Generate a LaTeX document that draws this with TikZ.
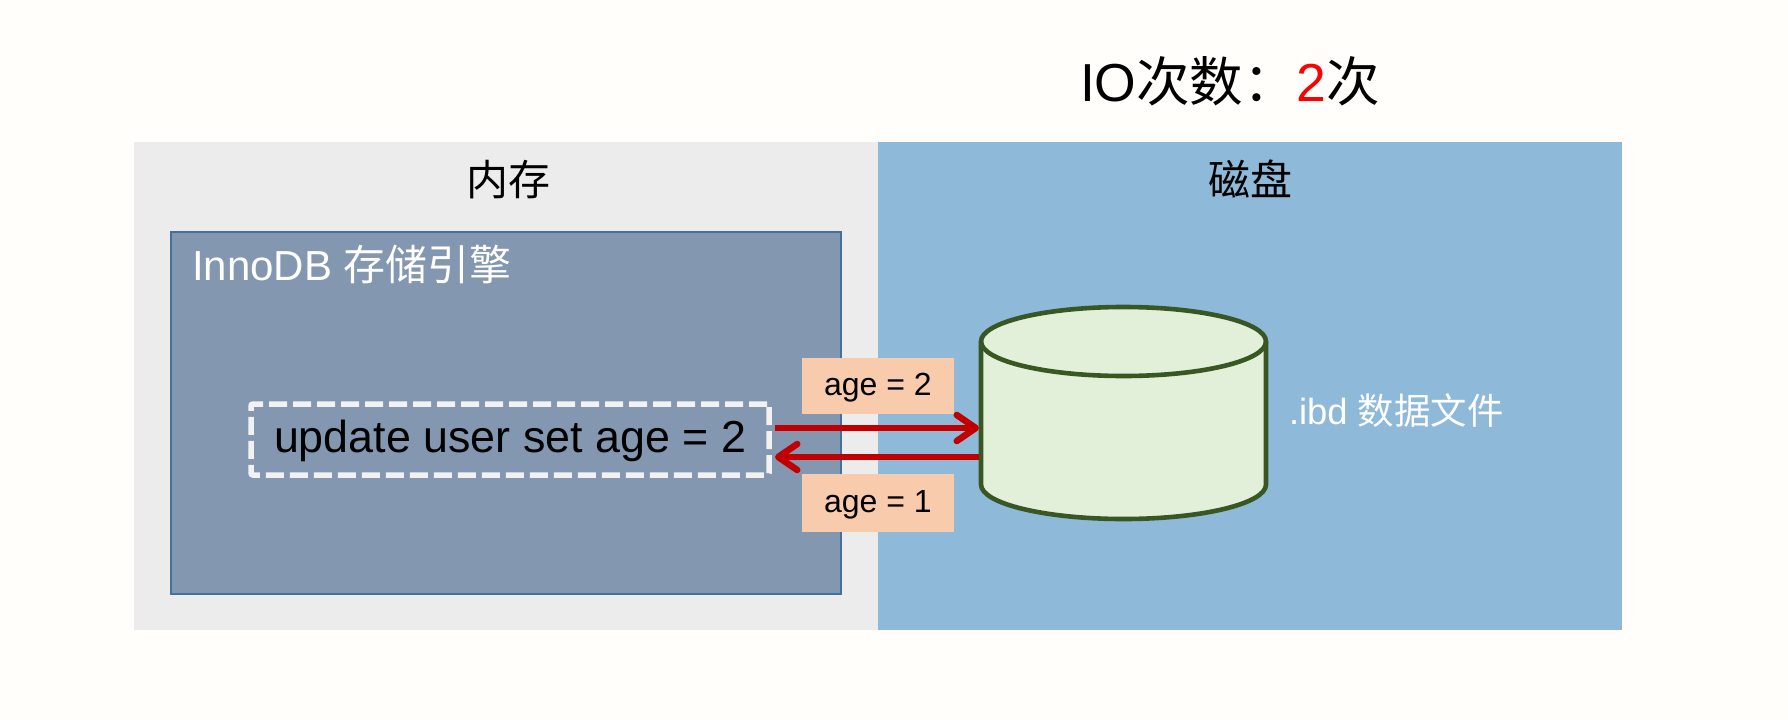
\documentclass[tikz,border=0pt]{standalone}
\usepackage{fontspec}
\setmainfont{Liberation Sans}
\newfontfamily\cjk{Noto Sans CJK SC}
\usetikzlibrary{arrows.meta}

\definecolor{pagecol}{HTML}{FFFEFA}
\definecolor{memcol}{HTML}{ECECEC}
\definecolor{diskcol}{HTML}{8EB9D9}
\definecolor{enginecol}{HTML}{8497B0}
\definecolor{engineline}{HTML}{41719C}
\definecolor{valcol}{HTML}{F8CBAD}
\definecolor{cylcol}{HTML}{E2EFD9}
\definecolor{cylline}{HTML}{385723}
\definecolor{ioline}{HTML}{C00000}
\definecolor{dashcol}{HTML}{F2F2F2}

\newcommand{\fsize}[1]{\fontsize{#1}{#1}\selectfont}

\begin{document}
\begin{tikzpicture}[
              x=1pt,y=-1pt,
              every node/.style={inner sep=0pt, outer sep=0pt},
              panel/.style={anchor=north west},
              word/.style={anchor=base west},
              valbox/.style={fill=valcol, minimum width=152pt, anchor=north west},
              cylend/.style={x radius=142.5pt, y radius=34.5pt},
              cylline/.style={draw=cylline, line width=4.6pt, line join=round},
              ioarrow/.style={draw=ioline, line width=6.5pt, -{Straight Barb[length=19pt,width=26pt,round]}}
            ]
              \path[use as bounding box, fill=pagecol] (0,0) rectangle (1788,720);
              \node[panel, fill=memcol, minimum width=744pt, minimum height=488pt] (mem) at (134,142) {};
              \node[panel, fill=diskcol, minimum width=744pt, minimum height=488pt] (hdd) at (878,142) {};
              \node[panel, fill=enginecol, draw=engineline, line width=1.5pt, minimum width=670pt, minimum height=362pt] (engine) at (171,232) {};

              \node[word] (title) at (1080,101) {\fsize{53.5}IO{\cjk 次数：}\textcolor{red}{2}{\cjk 次}};
              \node[word] (memtitle) at (466,195) {\fsize{42}\cjk 内存};
              \node[word] (hddtitle) at (1208,195) {\fsize{42}\cjk 磁盘};
              \node[word, text=white] (enginetitle) at (192,280) {\fsize{42}InnoDB {\cjk 存储引擎}};

              \node[draw=dashcol, line width=5.5pt, dash pattern=on 18pt off 6pt, rounded corners=2pt,
                    minimum width=518pt, minimum height=71pt] (sql) at (510,439.5) {};
              \node[word] (sqltext) at (274,452) {\fsize{44.8}update user set age = 2};

              % disk: frame node, body and top ellipse drawn on it
              \node[minimum width=285pt, minimum height=212pt] (disk) at (1123.5,413) {};
              \draw[cylline, fill=cylcol] ([yshift=-34.5pt]disk.north west) arc[start angle=180, end angle=0, cylend]
                -- ([yshift=34.5pt]disk.south east) arc[start angle=0, end angle=-180, cylend] -- cycle;
              \draw[cylline] ([yshift=-34.5pt]disk.north west) arc[start angle=180, end angle=360, cylend];
              \node[word, text=white] (ibd) at (1289,424) {\fsize{36.4}.ibd {\cjk 数据文件}};

              \node[valbox, minimum height=56pt] (wval) at (802,358) {};
              \node[valbox, minimum height=58pt] (rval) at (802,474) {};
              \node[word] (wtext) at (824,395) {\fsize{32}age = 2};
              \node[word] (rtext) at (824,512) {\fsize{32}age = 1};

              % write goes out above, read comes back below
              \coordinate (wout) at ([xshift=6pt,yshift=11.5pt]sql.east);
              \coordinate (rin) at ([xshift=6pt,yshift=-17.5pt]sql.east);
              \coordinate (wend) at ([xshift=-2pt]wout -| disk.west);
              \coordinate (rout) at ([xshift=-2pt]rin -| disk.west);
              \draw[ioarrow] (wout) -- (wend);
              \draw[ioarrow] (rout) -- (rin);
            \end{tikzpicture}
\end{document}
